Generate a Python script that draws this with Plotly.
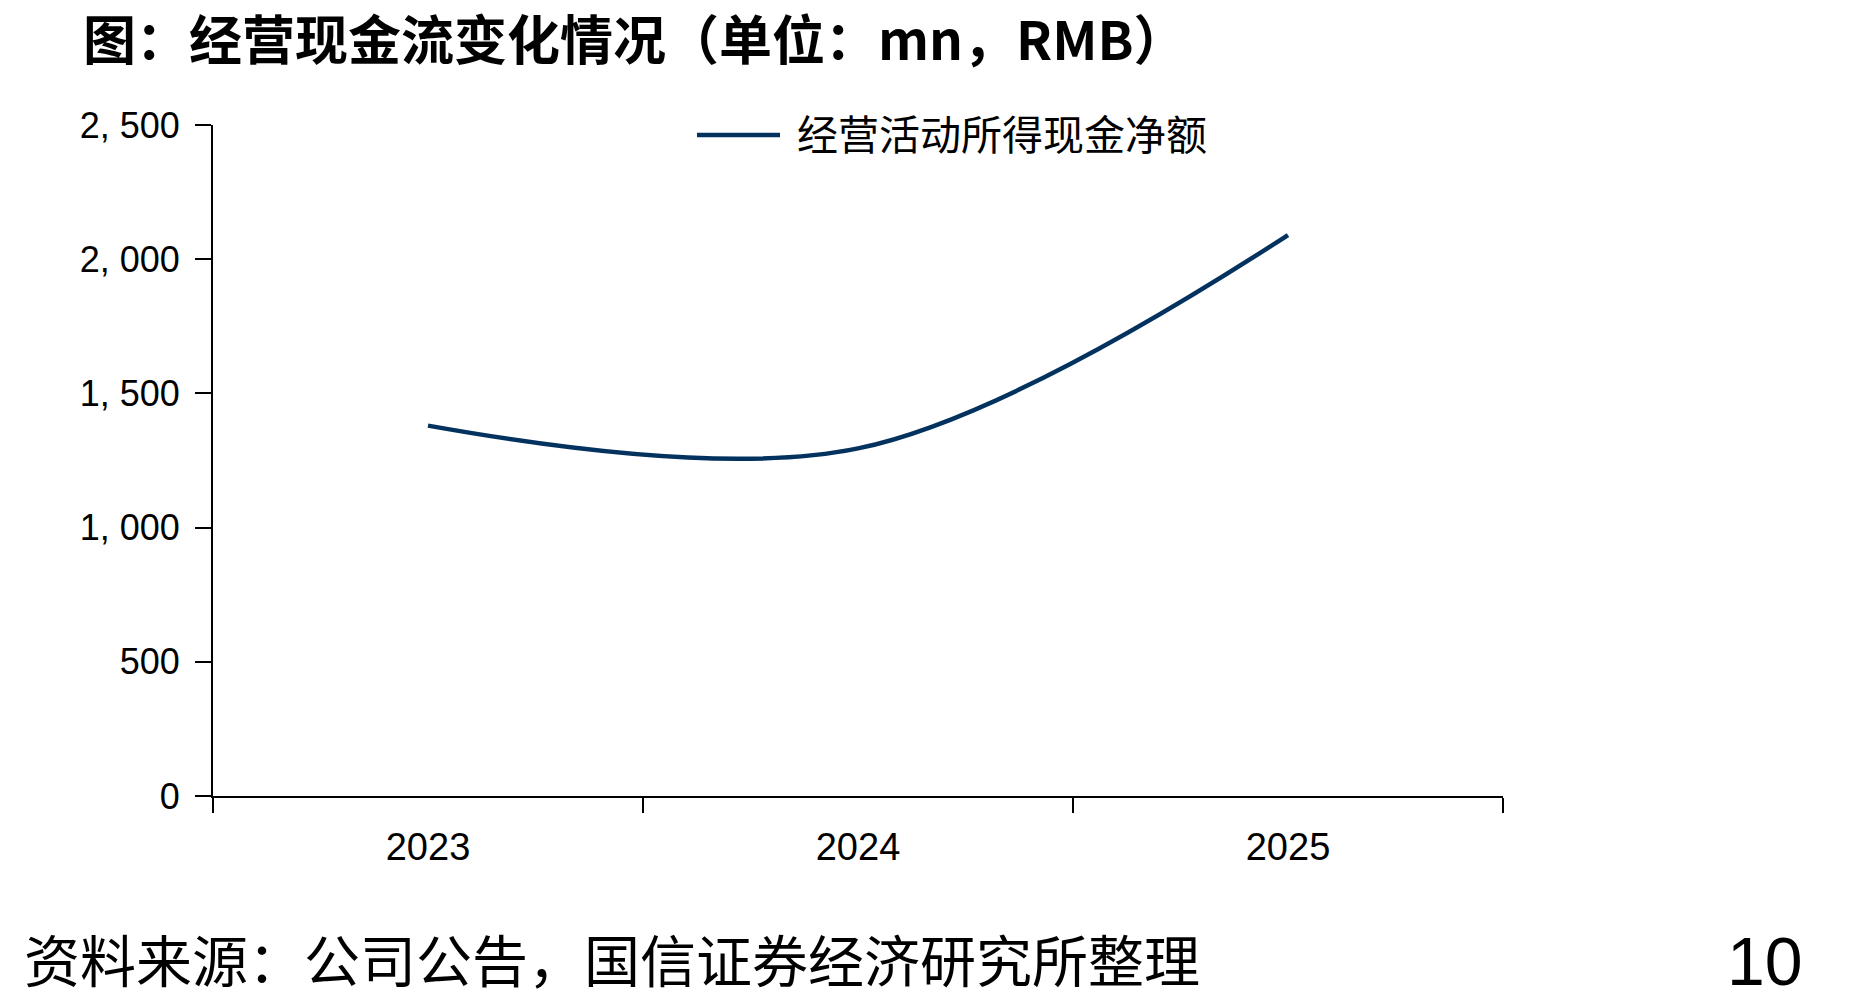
import plotly.graph_objects as go

# ---- data ----
years = ["2023", "2024", "2025"]
op_cash_flow = [1380, 1295, 2090]
series_name = "经营活动所得现金净额"
y_tickvals = [0, 500, 1000, 1500, 2000, 2500]
y_ticktext = ["0", "500", "1, 000", "1, 500", "2, 000", "2, 500"]
title_text = "图：经营现金流变化情况（单位：mn，RMB）"
source_text = "资料来源：公司公告，国信证券经济研究所整理"
page_no = "10"

W, H = 1852, 999
L, R, T, B = 213, 1503, 125, 796
LINE_COLOR = "#03325F"

def px_x(x):
    return (x - L) / (R - L)

def px_y(y):
    return (B - y) / (B - T)

fig = go.Figure()
fig.add_trace(go.Scatter(
    x=years, y=op_cash_flow, mode="lines", name=series_name,
    line=dict(color=LINE_COLOR, width=4.5, shape="spline", smoothing=1.0),
    showlegend=False,
))

cjk = "Noto Sans CJK SC, Noto Sans, sans-serif"

fig.update_layout(
    width=W, height=H,
    margin=dict(l=L, r=W - R, t=T, b=H - B),
    paper_bgcolor="white", plot_bgcolor="white",
    title=dict(text="<b>" + title_text + "</b>", x=83 / W, xanchor="left",
               xref="container", y=1 - 41 / H, yref="container", yanchor="middle",
               font=dict(family=cjk, size=53, color="black")),
    xaxis=dict(type="category", tickson="boundaries", ticks="outside", ticklen=15,
               tickwidth=2, tickcolor="black", showline=True, linecolor="black",
               linewidth=2, showgrid=False, zeroline=False, ticklabelstandoff=16,
               tickfont=dict(family="Liberation Sans Narrow, Liberation Sans, Arial", size=38, color="black"),
               range=[-0.5, 2.5]),
    yaxis=dict(range=[0, 2500], tickvals=y_tickvals, ticktext=y_ticktext,
               ticks="outside", ticklen=16, tickwidth=2, tickcolor="black",
               showline=True, linecolor="black", linewidth=2, showgrid=False,
               zeroline=False, ticklabelstandoff=8,
               tickfont=dict(family="Liberation Sans, Arial", size=36, color="black")),
)

# legend (drawn to match reference sample length)
fig.add_shape(type="line", xref="paper", yref="paper",
              x0=px_x(697), x1=px_x(780), y0=px_y(135), y1=px_y(135),
              line=dict(color=LINE_COLOR, width=4.5))
fig.add_annotation(text=series_name, xref="paper", yref="paper",
                   x=px_x(795), y=px_y(132), xanchor="left", yanchor="middle",
                   showarrow=False, font=dict(family=cjk, size=41, color="black"))

fig.add_annotation(text=source_text, xref="paper", yref="paper",
                   x=px_x(22), y=px_y(957), xanchor="left", yanchor="middle",
                   showarrow=False, font=dict(family=cjk, size=56, color="black"))
fig.add_annotation(text=page_no, xref="paper", yref="paper",
                   x=px_x(1805), y=px_y(961), xanchor="right", yanchor="middle",
                   showarrow=False, font=dict(family="Liberation Sans Narrow, Liberation Sans, Arial", size=68, color="black"))

fig.write_html("out.html")
